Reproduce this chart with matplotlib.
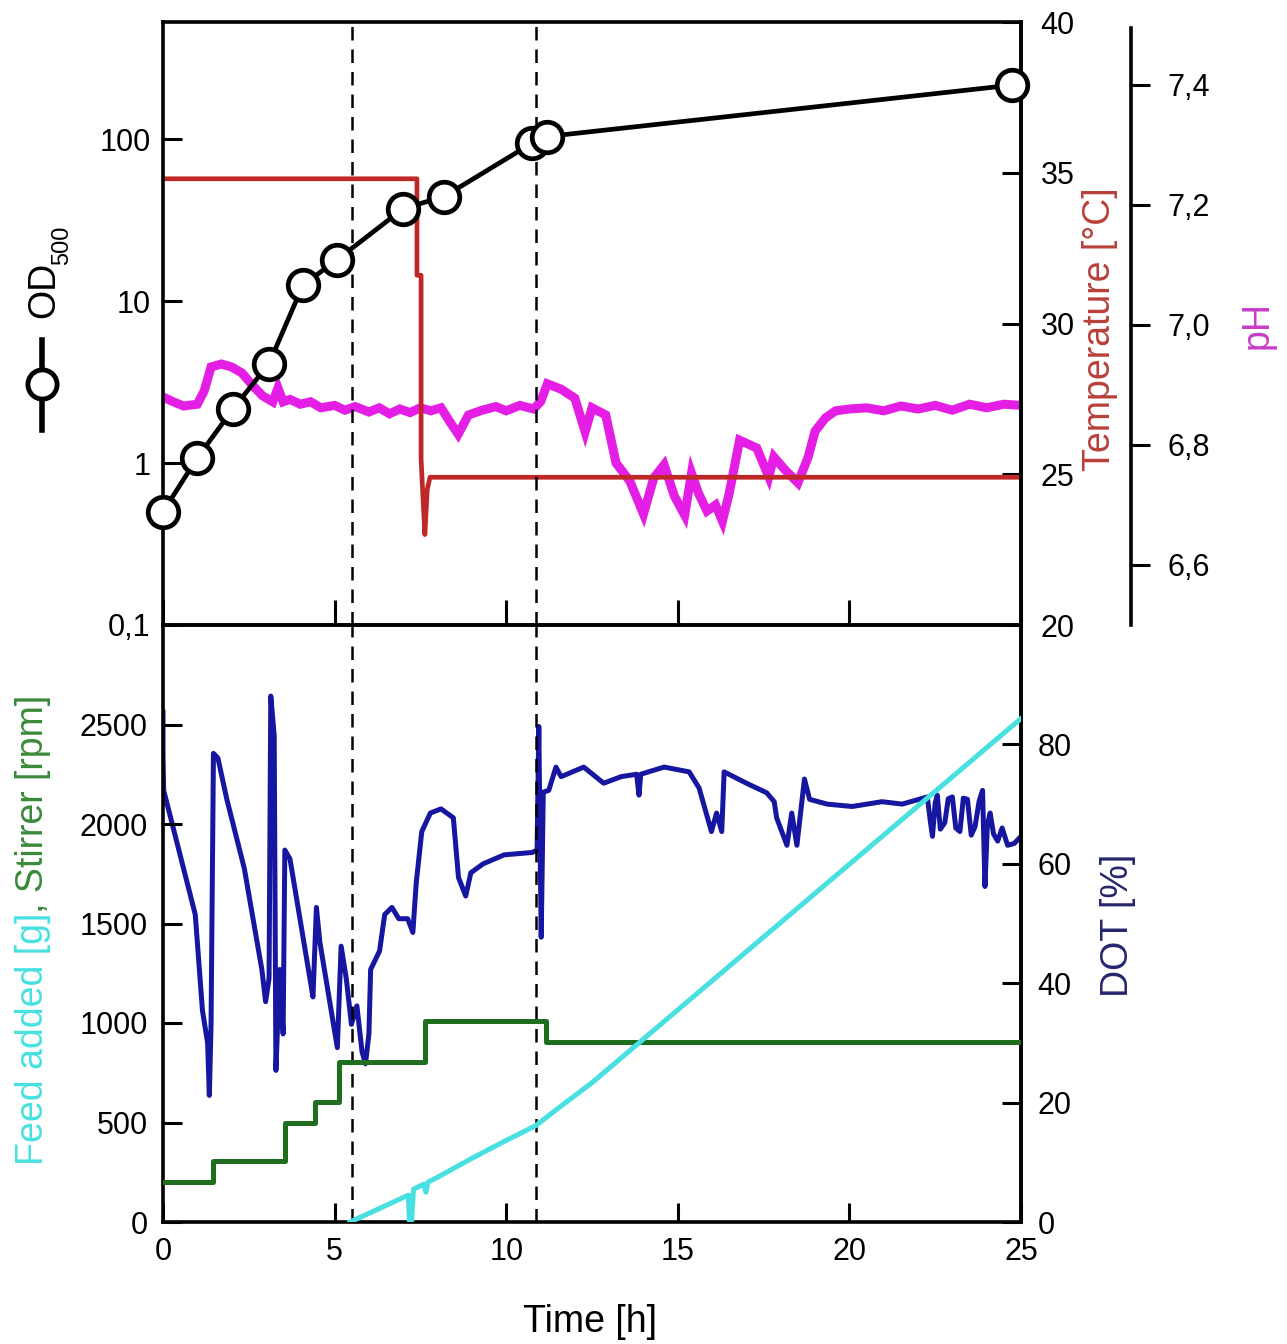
import matplotlib
matplotlib.use('Agg')
import matplotlib.pyplot as plt
from matplotlib.lines import Line2D

plt.rcParams['font.family'] = ['Liberation Sans', 'DejaVu Sans']

# ---------------- data ----------------
od_t = [0.0, 0.99, 2.04, 3.09, 4.08, 5.07, 7.0, 8.19, 10.75, 11.19, 24.74]
od_v = [0.50, 1.07, 2.16, 4.12, 12.6, 18.0, 37.3, 44.3, 94.5, 104, 216]

temp_t = [0.0, 7.40, 7.40, 7.52, 7.52, 7.63, 7.70, 7.78, 25.0]
temp_v = [34.8, 34.8, 31.6, 31.6, 25.5, 23.0, 24.5, 24.9, 24.9]

ph_t = [0.0, 0.3, 0.6, 1.0, 1.2, 1.4, 1.7, 2.0, 2.3, 2.6, 2.9, 3.2, 3.35, 3.5, 3.7,
        4.0, 4.3, 4.6, 5.0, 5.3, 5.6, 6.0, 6.3, 6.6, 6.9, 7.2, 7.5, 7.8, 8.1, 8.4,
        8.6, 8.9, 9.3, 9.7, 10.0, 10.4, 10.8, 11.0, 11.2, 11.6, 12.0, 12.3, 12.5,
        12.9, 13.2, 13.6, 14.0, 14.3, 14.6, 14.9, 15.2, 15.4, 15.6, 15.85, 16.1,
        16.3, 16.5, 16.8, 17.3, 17.65, 17.8, 18.1, 18.5, 18.8, 19.0, 19.3, 19.6,
        20.0, 20.5, 21.0, 21.5, 22.0, 22.5, 23.0, 23.5, 24.0, 24.5, 25.0]
ph_v = [6.88, 6.872, 6.865, 6.868, 6.89, 6.93, 6.935, 6.93, 6.92, 6.90, 6.882,
        6.872, 6.895, 6.872, 6.876, 6.868, 6.872, 6.862, 6.866, 6.858, 6.864,
        6.855, 6.862, 6.852, 6.86, 6.854, 6.862, 6.857, 6.862, 6.835, 6.818, 6.85,
        6.858, 6.864, 6.857, 6.866, 6.86, 6.872, 6.902, 6.893, 6.878, 6.822, 6.862,
        6.85, 6.77, 6.74, 6.685, 6.745, 6.767, 6.715, 6.683, 6.753, 6.72, 6.69,
        6.70, 6.673, 6.72, 6.808, 6.795, 6.747, 6.78, 6.76, 6.737, 6.78, 6.823,
        6.845, 6.857, 6.86, 6.862, 6.857, 6.865, 6.86, 6.866, 6.858, 6.868, 6.862,
        6.868, 6.866]

dot_t = [0.0, 0.0, 0.02, 0.94, 1.15, 1.3, 1.35, 1.4, 1.47, 1.6, 1.86, 2.37, 2.88,
         2.99, 3.09, 3.14, 3.24, 3.29, 3.40, 3.50, 3.55, 3.70, 4.26, 4.37, 4.47,
         4.57, 5.08, 5.19, 5.34, 5.49, 5.65, 5.80, 5.90, 6.0, 6.05, 6.31, 6.46,
         6.67, 6.87, 7.13, 7.28, 7.38, 7.54, 7.79, 8.10, 8.46, 8.61, 8.82, 8.97,
         9.33, 9.94, 10.76, 10.90, 10.95, 11.02, 11.08, 11.24, 11.45, 11.6, 12.26,
         12.84, 13.35, 13.80, 13.87, 13.92, 14.6, 15.33, 15.62, 15.98, 16.13,
         16.28, 16.35, 17.0, 17.59, 17.81, 17.88, 18.18, 18.32, 18.47, 18.69,
         18.84, 19.35, 20.08, 20.95, 21.54, 22.27, 22.35, 22.42, 22.50, 22.56,
         22.65, 22.78, 22.88, 23.0, 23.1, 23.22, 23.32, 23.44, 23.55, 23.66,
         23.78, 23.88, 23.95, 24.02, 24.1, 24.2, 24.32, 24.45, 24.61, 24.8, 25.0]
dot_v = [85.4, 78, 72.3, 51.5, 35.4, 30, 21.2, 33, 78.5, 77.7, 70.8, 59.2, 42.3,
         36.9, 40.8, 88.1, 81.5, 25.4, 42.3, 31.5, 62.3, 60.8, 41.5, 37.7, 52.7,
         46.9, 29.2, 46.2, 40.8, 33.1, 36.2, 28.5, 26.5, 31.5, 42.3, 45.4, 51.5,
         52.7, 50.8, 50.8, 48.5, 56.9, 65.4, 68.5, 69.2, 67.7, 57.7, 54.6, 58.5,
         60, 61.5, 61.9, 62.3, 83, 47.7, 72, 72.3, 76.2, 74.6, 76.2, 73.5, 74.6,
         75.0, 71.5, 75.0, 76.2, 75.4, 72.7, 65.4, 68.5, 65.4, 75.4, 73.5, 71.9,
         70.4, 67.7, 63.1, 68.5, 63.1, 74.2, 70.8, 70.0, 69.6, 70.4, 70.0, 71.2,
         67.5, 64.6, 70.2, 71.5, 65.8, 66.9, 70.9, 71.2, 66.0, 65.4, 71.0, 70.8,
         64.8, 66.2, 70.5, 72.3, 56.2, 66.5, 68.5, 65.0, 63.8, 66.0, 63.1, 63.4,
         64.6]

stir_t = [0, 1.47, 3.55, 4.42, 5.13, 7.64, 11.15, 25]
stir_v = [200, 305, 495, 605, 805, 1010, 905, 905]

feed_t = [5.45, 7.15, 7.18, 7.24, 7.30, 7.60, 7.66, 7.72, 8.0, 9.0, 10.0, 10.87,
          11.5, 12.5, 25.0]
feed_v = [0, 135, 0, 0, 165, 190, 150, 200, 225, 320, 410, 485, 570, 700, 2530]

phase_t = [5.5, 10.87]

od_ticks = [0.1, 1, 10, 100]
od_labels = ['0,1', '1', '10', '100']
temp_ticks = [20, 25, 30, 35, 40]
ph_ticks = [6.6, 6.8, 7.0, 7.2, 7.4]
ph_labels = ['6,6', '6,8', '7,0', '7,2', '7,4']
x_ticks = [0, 5, 10, 15, 20, 25]
left2_ticks = [0, 500, 1000, 1500, 2000, 2500]
dot_ticks = [0, 20, 40, 60, 80]

# ---------------- colours ----------------
C_OD = 'black'
C_T = '#c02828'
C_PH = '#e41ee4'
C_DOT = '#1616a0'
C_STIR = '#1f6e1f'
C_FEED = '#48e0e0'

W, H = 1287, 1344
fig = plt.figure(figsize=(W / 100, H / 100), dpi=100)
fig.patch.set_facecolor('white')

def fx(px):
    return px / W

def fy(py):
    return 1 - py / H

L, R = 163, 1021
T1, B1 = 22, 625
T2, B2 = 625, 1222

TS = 22     # tick label size
LS = 27     # axis label size
SW = 2.6    # spine width

ax1 = fig.add_axes([fx(L), fy(B1), fx(R) - fx(L), fy(T1) - fy(B1)])
axT = ax1.twinx()
axP = ax1.twinx()
ax2 = fig.add_axes([fx(L), fy(B2), fx(R) - fx(L), fy(T2) - fy(B2)])
axD = ax2.twinx()

for a in (ax1, axT, axP, ax2, axD):
    for s in a.spines.values():
        s.set_linewidth(SW)

ax1.set_zorder(3); axT.set_zorder(2); axP.set_zorder(1)
ax1.patch.set_visible(False); axT.patch.set_visible(False)
ax2.set_zorder(2); axD.set_zorder(1)
ax2.patch.set_visible(False)

# ---- top panel ----
ax1.set_yscale('log')
ax1.set_xlim(0, 25)
ax1.set_ylim(0.1, 530)
ax1.set_yticks(od_ticks)
ax1.set_yticklabels(od_labels)
ax1.yaxis.set_minor_locator(matplotlib.ticker.NullLocator())
ax1.set_xticks(x_ticks)
ax1.tick_params(axis='y', direction='in', length=14, width=2.2, labelsize=TS, pad=9)
ax1.tick_params(axis='x', direction='in', length=18, width=2.2, labelbottom=False)
for xv in phase_t:
    ax1.axvline(xv, color='black', lw=1.8, ls=(0, (5.4, 3.6)), zorder=1)
ax1.plot(od_t, od_v, color=C_OD, lw=3.4, marker='o', ms=22, mfc='white',
         mec=C_OD, mew=3.4, zorder=5, clip_on=False)

axT.set_ylim(20, 40)
axT.set_yticks(temp_ticks)
axT.tick_params(axis='y', direction='in', length=14, width=2.2, labelsize=TS, pad=14)
axT.plot(temp_t, temp_v, color=C_T, lw=3.4)
for s in ('left', 'top', 'bottom'):
    axT.spines[s].set_visible(False)

axP.set_ylim(6.5, 7.505)
axP.set_yticks(ph_ticks)
axP.set_yticklabels(ph_labels)
axP.spines['right'].set_position(('axes', (1131 - L) / (R - L)))
axP.spines['right'].set_bounds(6.5, 7.495)
for s in ('left', 'top', 'bottom'):
    axP.spines[s].set_visible(False)
axP.tick_params(axis='y', direction='out', length=14, width=2.2, labelsize=TS, pad=12)
axP.plot(ph_t, ph_v, color=C_PH, lw=6.5, solid_joinstyle='miter')

# ---- bottom panel ----
ax2.set_xlim(0, 25)
ax2.set_ylim(0, 3000)
ax2.set_xticks(x_ticks)
ax2.set_yticks(left2_ticks)
ax2.tick_params(axis='both', direction='in', length=14, width=2.2, labelsize=TS, pad=11)
for xv in phase_t:
    ax2.axvline(xv, color='black', lw=1.8, ls=(0, (5.4, 3.6)), zorder=1)
ax2.plot(stir_t, stir_v, color=C_STIR, lw=3.6, drawstyle='steps-post', zorder=3)
ax2.plot(feed_t, feed_v, color=C_FEED, lw=3.6, zorder=4)

axD.set_ylim(0, 100)
axD.set_yticks(dot_ticks)
axD.tick_params(axis='y', direction='in', length=14, width=2.2, labelsize=TS, pad=12)
axD.plot(dot_t, dot_v, color=C_DOT, lw=3.6)
for s in ('left', 'top', 'bottom'):
    axD.spines[s].set_visible(False)

# ---- labels ----
fig.text(fx(1100), fy(329), 'Temperature [°C]', rotation=90, color='#b8403a',
         fontsize=LS, ha='center', va='center')
fig.text(fx(1258), fy(325), 'pH', rotation=90, color='#c83cc8',
         fontsize=LS, ha='center', va='center')
fig.text(fx(1118), fy(925), 'DOT [%]', rotation=90, color='#26266e',
         fontsize=LS, ha='center', va='center')
fig.text(fx(590), fy(1322), 'Time [h]', fontsize=27, ha='center', va='center')

fig.text(fx(44), fy(290), 'OD', rotation=90, fontsize=LS, ha='center', va='center')
fig.text(fx(62), fy(245), '500', rotation=90, fontsize=17, ha='center', va='center')
fig.add_artist(Line2D([fx(42), fx(42)], [fy(340), fy(430)], color='black', lw=4,
                      transform=fig.transFigure))
fig.add_artist(Line2D([fx(42)], [fy(384)], marker='o', ms=21, mfc='white',
                      mec='black', mew=3.5, transform=fig.transFigure))

t1 = fig.text(fx(33), fy(1165), 'Feed added [g]', rotation=90, color=C_FEED,
              fontsize=LS, ha='center', va='bottom')
r = fig.canvas.get_renderer()
bb = t1.get_window_extent(r)
fig.text(fx(33), bb.y1 / fig.bbox.height, ', Stirrer [rpm]', rotation=90,
         color='#3a8a3a', fontsize=LS, ha='center', va='bottom')

fig.savefig('out.png', dpi=100, facecolor='white')
